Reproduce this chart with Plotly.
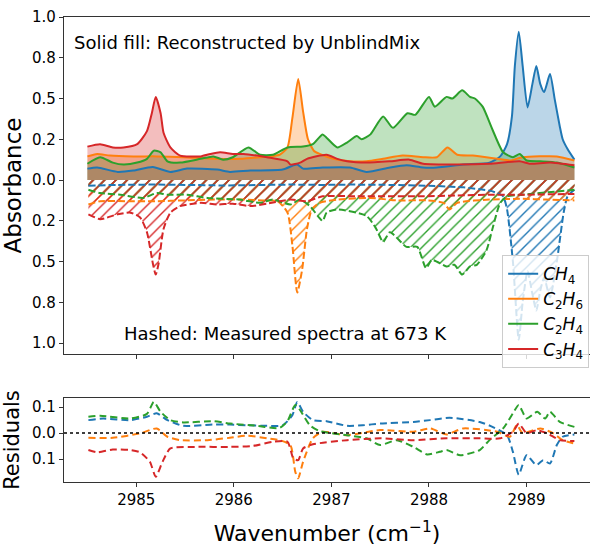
import plotly.graph_objects as go

# ---------------- data ----------------
species = ["CH4", "C2H6", "C2H4", "C3H4"]
legend_names = ["<i>CH</i><sub>4</sub>", "<i>C</i><sub>2</sub><i>H</i><sub>6</sub>",
                "<i>C</i><sub>2</sub><i>H</i><sub>4</sub>", "<i>C</i><sub>3</sub><i>H</i><sub>4</sub>"]

# Reconstructed spectra (solid fill, plotted upward)
x_rec_ch4 = [2984.50, 2984.60, 2984.81, 2984.97, 2985.17, 2985.35, 2985.52, 2985.83, 2985.96, 2986.17,
             2986.50, 2986.61, 2986.65, 2986.71, 2986.91, 2987.19, 2987.36, 2987.60, 2987.77, 2987.94,
             2988.08, 2988.35, 2988.62, 2988.73, 2988.80, 2988.85, 2988.88, 2988.92, 2988.96, 2989.01,
             2989.06, 2989.10, 2989.14, 2989.18, 2989.24, 2989.29, 2989.34, 2989.37, 2989.42, 2989.49]
y_rec_ch4 = [0.070, 0.077, 0.050, 0.058, 0.080, 0.050, 0.070, 0.064, 0.050, 0.058,
             0.064, 0.090, 0.095, 0.070, 0.077, 0.077, 0.050, 0.077, 0.090, 0.077,
             0.077, 0.095, 0.107, 0.145, 0.220, 0.390, 0.700, 0.910, 0.700, 0.445,
             0.590, 0.700, 0.590, 0.540, 0.650, 0.490, 0.330, 0.250, 0.190, 0.125]

x_rec_c2h6 = [2984.50, 2984.60, 2984.73, 2984.97, 2985.21, 2985.48, 2985.83, 2986.06, 2986.34, 2986.47,
              2986.55, 2986.60, 2986.66, 2986.71, 2986.76, 2986.82, 2986.88, 2987.02, 2987.19, 2987.36,
              2987.53, 2987.73, 2987.94, 2988.08, 2988.19, 2988.29, 2988.45, 2988.70, 2988.83, 2988.96,
              2989.31, 2989.49]
y_rec_c2h6 = [0.145, 0.160, 0.150, 0.145, 0.145, 0.140, 0.130, 0.130, 0.145, 0.155,
              0.200, 0.380, 0.620, 0.420, 0.250, 0.180, 0.160, 0.130, 0.115, 0.115,
              0.130, 0.150, 0.140, 0.140, 0.200, 0.155, 0.150, 0.130, 0.120, 0.140,
              0.145, 0.120]

x_rec_c2h4 = [2984.50, 2984.63, 2984.76, 2984.87, 2985.01, 2985.11, 2985.18, 2985.25, 2985.32, 2985.45,
              2985.66, 2985.79, 2985.89, 2985.99, 2986.15, 2986.27, 2986.40, 2986.55, 2986.71, 2986.81,
              2986.91, 2986.95, 2987.06, 2987.16, 2987.26, 2987.31, 2987.40, 2987.53, 2987.63, 2987.78,
              2987.86, 2988.00, 2988.06, 2988.18, 2988.24, 2988.34, 2988.42, 2988.47, 2988.55, 2988.65,
              2988.76, 2988.86, 2988.93, 2989.00, 2989.14, 2989.31, 2989.49]
y_rec_c2h4 = [0.100, 0.140, 0.107, 0.095, 0.107, 0.130, 0.180, 0.170, 0.115, 0.107,
              0.130, 0.145, 0.125, 0.140, 0.200, 0.155, 0.155, 0.200, 0.205, 0.220,
              0.280, 0.260, 0.200, 0.230, 0.270, 0.250, 0.280, 0.390, 0.320, 0.410,
              0.400, 0.510, 0.450, 0.510, 0.500, 0.550, 0.510, 0.500, 0.450, 0.310,
              0.170, 0.140, 0.160, 0.120, 0.115, 0.107, 0.077]

x_rec_c3h4 = [2984.50, 2984.63, 2984.76, 2984.87, 2985.01, 2985.11, 2985.16, 2985.20, 2985.25, 2985.28,
              2985.35, 2985.45, 2985.66, 2985.76, 2985.86, 2985.99, 2986.10, 2986.24, 2986.34, 2986.55,
              2986.58, 2986.68, 2986.75, 2986.95, 2987.06, 2987.16, 2987.36, 2987.60, 2987.80, 2987.94,
              2988.29, 2988.62, 2988.93, 2989.03, 2989.24, 2989.49]
y_rec_c3h4 = [0.205, 0.220, 0.200, 0.200, 0.220, 0.300, 0.410, 0.510, 0.410, 0.290,
              0.200, 0.150, 0.145, 0.160, 0.170, 0.160, 0.160, 0.150, 0.140, 0.115,
              0.095, 0.107, 0.130, 0.155, 0.130, 0.115, 0.107, 0.115, 0.125, 0.100,
              0.095, 0.100, 0.115, 0.100, 0.107, 0.090]

# Measured spectra (hashed, plotted downward)
x_meas_ch4 = [2984.51, 2984.80, 2985.20, 2985.50, 2985.90, 2986.30, 2986.60, 2986.90, 2987.20, 2987.60,
              2988.00, 2988.35, 2988.62, 2988.70, 2988.76, 2988.80, 2988.86, 2988.92, 2988.96, 2989.01,
              2989.06, 2989.10, 2989.14, 2989.18, 2989.24, 2989.31, 2989.38, 2989.42, 2989.49]
y_meas_ch4 = [-0.035, -0.030, -0.028, -0.030, -0.033, -0.030, -0.028, -0.030, -0.028, -0.030,
              -0.035, -0.045, -0.065, -0.080, -0.100, -0.180, -0.500, -0.980, -0.750, -0.560,
              -0.700, -0.800, -0.680, -0.600, -0.720, -0.500, -0.200, -0.100, -0.060]

x_meas_c2h6 = [2984.51, 2984.63, 2984.90, 2985.20, 2985.50, 2985.80, 2986.10, 2986.30, 2986.45, 2986.55,
               2986.60, 2986.65, 2986.70, 2986.75, 2986.80, 2986.88, 2987.06, 2987.40, 2987.67, 2987.98,
               2988.15, 2988.21, 2988.29, 2988.62, 2988.96, 2989.20, 2989.49]
y_meas_c2h6 = [-0.150, -0.130, -0.130, -0.130, -0.125, -0.120, -0.120, -0.125, -0.130, -0.200,
               -0.400, -0.690, -0.550, -0.300, -0.180, -0.140, -0.120, -0.110, -0.125, -0.125,
               -0.140, -0.180, -0.140, -0.120, -0.115, -0.120, -0.125]

x_meas_c2h4 = [2984.51, 2984.63, 2984.84, 2985.07, 2985.21, 2985.32, 2985.52, 2985.73, 2986.06, 2986.27,
               2986.40, 2986.58, 2986.68, 2986.78, 2986.91, 2986.95, 2987.06, 2987.36, 2987.46, 2987.53,
               2987.60, 2987.77, 2987.88, 2987.97, 2988.03, 2988.18, 2988.26, 2988.34, 2988.42, 2988.49,
               2988.59, 2988.65, 2988.73, 2988.80, 2988.96, 2989.31, 2989.49]
y_meas_c2h4 = [-0.060, -0.080, -0.090, -0.110, -0.080, -0.090, -0.090, -0.110, -0.120, -0.140,
               -0.120, -0.150, -0.120, -0.160, -0.250, -0.200, -0.180, -0.220, -0.300, -0.380,
               -0.320, -0.410, -0.410, -0.540, -0.490, -0.530, -0.520, -0.580, -0.530, -0.520,
               -0.430, -0.300, -0.140, -0.100, -0.090, -0.070, -0.060]

x_meas_c3h4 = [2984.51, 2984.63, 2984.81, 2984.94, 2985.04, 2985.11, 2985.17, 2985.20, 2985.23, 2985.28,
               2985.35, 2985.45, 2985.66, 2985.83, 2985.99, 2986.17, 2986.34, 2986.58, 2986.75, 2986.91,
               2987.26, 2987.60, 2987.94, 2988.29, 2988.62, 2988.96, 2989.49]
y_meas_c3h4 = [-0.210, -0.240, -0.210, -0.200, -0.230, -0.320, -0.510, -0.580, -0.510, -0.300,
               -0.200, -0.160, -0.140, -0.150, -0.145, -0.160, -0.145, -0.120, -0.130, -0.100,
               -0.100, -0.100, -0.100, -0.095, -0.090, -0.090, -0.085]

# Residuals
x_res_ch4 = [2984.51, 2984.66, 2984.94, 2985.11, 2985.21, 2985.32, 2985.48, 2985.79, 2985.96, 2986.14,
             2986.34, 2986.50, 2986.60, 2986.65, 2986.71, 2986.81, 2986.95, 2987.16, 2987.32, 2987.50,
             2987.84, 2988.01, 2988.21, 2988.52, 2988.65, 2988.80, 2988.86, 2988.92, 2989.00, 2989.10,
             2989.17, 2989.24, 2989.31, 2989.37, 2989.49]
y_res_ch4 = [0.050, 0.056, 0.050, 0.063, 0.076, 0.050, 0.028, 0.033, 0.033, 0.030,
             0.028, 0.030, 0.069, 0.120, 0.082, 0.050, 0.046, 0.028, 0.030, 0.037,
             0.043, 0.050, 0.059, 0.043, 0.024, -0.008, -0.072, -0.160, -0.085, -0.123,
             -0.104, -0.117, -0.046, -0.014, -0.005]

x_res_c2h6 = [2984.51, 2984.76, 2985.04, 2985.21, 2985.32, 2985.45, 2985.73, 2985.96, 2986.14, 2986.34,
              2986.47, 2986.58, 2986.63, 2986.66, 2986.71, 2986.81, 2986.91, 2987.16, 2987.50, 2987.84,
              2988.01, 2988.18, 2988.35, 2988.70, 2988.83, 2988.90, 2988.96, 2989.14, 2989.27, 2989.37,
              2989.49]
y_res_c2h6 = [-0.018, -0.018, -0.001, 0.018, -0.014, -0.027, -0.027, -0.018, -0.010, -0.020,
              -0.027, -0.046, -0.149, -0.174, -0.110, -0.020, 0.005, -0.008, 0.012, 0.005,
              0.018, -0.005, 0.018, 0.005, -0.014, 0.031, 0.000, 0.018, 0.000, -0.027,
              -0.040]

x_res_c2h4 = [2984.51, 2984.63, 2984.94, 2985.11, 2985.18, 2985.25, 2985.35, 2985.48, 2985.79, 2985.96,
              2986.24, 2986.47, 2986.55, 2986.63, 2986.68, 2986.78, 2986.88, 2987.16, 2987.36, 2987.50,
              2987.67, 2987.84, 2987.98, 2988.11, 2988.18, 2988.32, 2988.52, 2988.62, 2988.76, 2988.86,
              2988.92, 2989.00, 2989.11, 2989.19, 2989.24, 2989.34, 2989.49]
y_res_c2h4 = [0.063, 0.067, 0.056, 0.074, 0.120, 0.082, 0.050, 0.041, 0.046, 0.037,
              0.028, 0.020, 0.046, 0.108, 0.088, 0.030, 0.008, -0.008, -0.020, -0.046,
              -0.027, -0.053, -0.082, -0.072, -0.065, -0.085, -0.065, -0.027, 0.018, 0.076,
              0.108, 0.056, 0.082, 0.056, 0.082, 0.043, 0.024]

x_res_c3h4 = [2984.51, 2984.60, 2984.76, 2984.94, 2985.04, 2985.14, 2985.20, 2985.27, 2985.35, 2985.62,
              2985.96, 2986.20, 2986.40, 2986.55, 2986.61, 2986.66, 2986.71, 2986.81, 2987.16, 2987.50,
              2987.84, 2988.18, 2988.52, 2988.73, 2988.86, 2988.92, 2989.00, 2989.10, 2989.21, 2989.34,
              2989.49]
y_res_c3h4 = [-0.065, -0.074, -0.063, -0.065, -0.074, -0.110, -0.168, -0.110, -0.059, -0.053,
              -0.053, -0.049, -0.033, -0.033, -0.097, -0.104, -0.059, -0.043, -0.027, -0.020,
              -0.027, -0.020, -0.020, -0.020, 0.005, 0.037, 0.000, 0.011, 0.000, -0.027,
              -0.030]

# Axis ticks
x_tickvals = [2985, 2986, 2987, 2988, 2989]
x_ticktext = ["2985", "2986", "2987", "2988", "2989"]
abs_tickvals = [-1.0, -0.75, -0.5, -0.25, 0.0, 0.25, 0.5, 0.75, 1.0]
abs_ticktext = ["1.0", "0.8", "0.5", "0.2", "0.0", "0.2", "0.5", "0.8", "1.0"]
res_tickvals = [-0.1, 0.0, 0.1]
res_ticktext = ["0.1", "0.0", "0.1"]

# ---------------- figure ----------------
colors = ["#1f77b4", "#ff7f0e", "#2ca02c", "#d62728"]
fills = ["rgba(31,119,180,0.3)", "rgba(255,127,14,0.3)", "rgba(44,160,44,0.3)", "rgba(214,39,40,0.3)"]

rec = [(x_rec_ch4, y_rec_ch4), (x_rec_c2h6, y_rec_c2h6), (x_rec_c2h4, y_rec_c2h4), (x_rec_c3h4, y_rec_c3h4)]
meas = [(x_meas_ch4, y_meas_ch4), (x_meas_c2h6, y_meas_c2h6), (x_meas_c2h4, y_meas_c2h4), (x_meas_c3h4, y_meas_c3h4)]
res = [(x_res_ch4, y_res_ch4), (x_res_c2h6, y_res_c2h6), (x_res_c2h4, y_res_c2h4), (x_res_c3h4, y_res_c3h4)]

FONT = "DejaVu Sans"
fig = go.Figure()
SM = 0.6

# fills
for i in range(4):
    xr, yr = rec[i]
    xm, ym = meas[i]
    fig.add_trace(go.Scatter(x=xr, y=yr, mode="lines", fill="tozeroy", fillcolor=fills[i],
                             line=dict(width=0, shape="spline", smoothing=SM, color=colors[i]),
                             showlegend=False, hoverinfo="skip", xaxis="x", yaxis="y"))
    fig.add_trace(go.Scatter(x=xm, y=ym, mode="lines", fill="tozeroy", fillcolor="rgba(0,0,0,0)",
                             fillpattern=dict(shape="/", fgcolor=colors[i], bgcolor="rgba(0,0,0,0)",
                                              fgopacity=1, size=8, solidity=0.17, fillmode="overlay"),
                             line=dict(width=0, shape="spline", smoothing=SM, color=colors[i]),
                             showlegend=False, hoverinfo="skip", xaxis="x", yaxis="y"))
# lines
for i in range(4):
    xr, yr = rec[i]
    xm, ym = meas[i]
    fig.add_trace(go.Scatter(x=xr, y=yr, mode="lines",
                             line=dict(width=2, shape="spline", smoothing=SM, color=colors[i]),
                             showlegend=False, xaxis="x", yaxis="y"))
    fig.add_trace(go.Scatter(x=xm, y=ym, mode="lines",
                             line=dict(width=2, shape="spline", smoothing=SM, color=colors[i], dash="7px,3px"),
                             showlegend=False, xaxis="x", yaxis="y"))
# residuals
for i in range(4):
    xs, ys = res[i]
    fig.add_trace(go.Scatter(x=xs, y=ys, mode="lines",
                             line=dict(width=2, shape="spline", smoothing=SM, color=colors[i], dash="7px,4px"),
                             showlegend=False, xaxis="x2", yaxis="y2"))
# legend entries
for i in range(4):
    fig.add_trace(go.Scatter(x=[None], y=[None], mode="lines", name=legend_names[i],
                             line=dict(width=2, color=colors[i]), xaxis="x", yaxis="y"))

axis_common = dict(showline=True, linecolor="#333", linewidth=1.2, mirror=True,
                   ticks="outside", ticklen=4, tickwidth=1, tickcolor="#333",
                   showgrid=False, zeroline=False,
                   tickfont=dict(family=FONT, size=15, color="black"))
xr_range = [2984.26, 2989.65]

fig.update_layout(
    width=590, height=546,
    margin=dict(l=64, r=0, t=17, b=64),
    plot_bgcolor="white", paper_bgcolor="white",
    font=dict(family=FONT, color="black"),
    xaxis=dict(domain=[0, 1], anchor="y", range=xr_range, tickvals=x_tickvals,
               showticklabels=False, **axis_common),
    yaxis=dict(domain=[0.2753, 1.0], anchor="x", range=[-1.067, 1.0],
               tickvals=abs_tickvals, ticktext=abs_ticktext,
               title=dict(text="Absorbance", font=dict(family=FONT, size=23), standoff=7),
               **axis_common),
    xaxis2=dict(domain=[0, 1], anchor="y2", range=xr_range, tickvals=x_tickvals, ticktext=x_ticktext,
                title=dict(text="Wavenumber (cm<sup>−1</sup>)", font=dict(family=FONT, size=22), standoff=22),
                **axis_common),
    yaxis2=dict(domain=[0, 0.1806], anchor="x2", range=[-0.188, 0.135],
                tickvals=res_tickvals, ticktext=res_ticktext,
                title=dict(text="Residuals", font=dict(family=FONT, size=21), standoff=8),
                **axis_common),
    legend=dict(x=0.833, y=0.488, xanchor="left", yanchor="top",
                bgcolor="rgba(255,255,255,0.8)", bordercolor="#cccccc", borderwidth=1,
                font=dict(family=FONT, size=17), itemwidth=30, tracegroupgap=0),
    showlegend=True,
)

fig.add_shape(type="line", xref="x2 domain", yref="y2", x0=0, x1=1, y0=0, y1=0,
              line=dict(color="black", width=1.5, dash="dot"))

fig.add_annotation(text="Solid fill: Reconstructed by UnblindMix", xref="x domain", yref="y domain",
                   x=0.015, y=0.923, xanchor="left", yanchor="middle", showarrow=False,
                   font=dict(family=FONT, size=18, color="black"))
fig.add_annotation(text="Hashed: Measured spectra at 673 K", xref="x domain", yref="y domain",
                   x=0.110, y=0.062, xanchor="left", yanchor="middle", showarrow=False,
                   font=dict(family=FONT, size=18, color="black"))

fig.write_html("out.html")
